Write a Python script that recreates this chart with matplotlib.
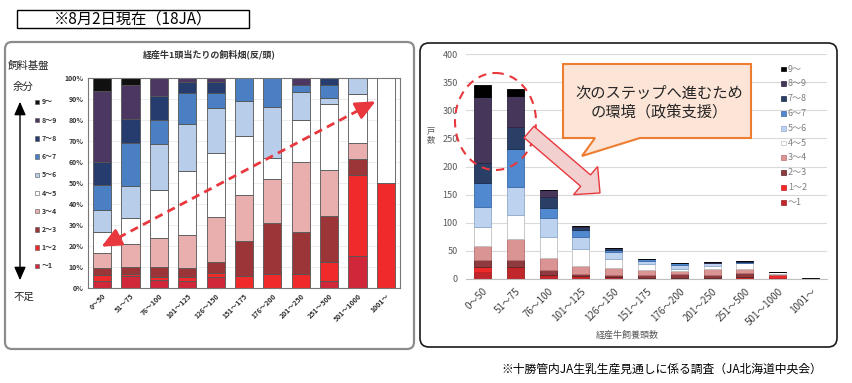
import numpy as np
import matplotlib
matplotlib.use('Agg')
import matplotlib.pyplot as plt
from matplotlib.patches import FancyBboxPatch, Ellipse, Polygon, FancyArrow, FancyArrowPatch, Rectangle

plt.rcParams['font.family'] = ['Noto Sans CJK JP', 'DejaVu Sans']

# ---------------- data ----------------
categories = ['0～50', '51～75', '76～100', '101～125', '126～150', '151～175',
              '176～200', '201～250', '251～500', '501～1000', '1001～']
class_labels = ['～1', '1～2', '2～3', '3～4', '4～5', '5～6', '6～7', '7～8', '8～9', '9～']  # bottom -> top

cnt_lt1 = [12, 19, 6, 3, 3, 0, 0, 0, 1, 2, 0]
cnt_1_2 = [10, 3, 2, 2, 1, 2, 2, 2, 3, 5, 1]
cnt_2_3 = [11, 12, 8, 4, 3, 6, 7, 6, 7, 1, 0]
cnt_3_4 = [25, 37, 22, 15, 12, 8, 6, 10, 7, 1, 0]
cnt_4_5 = [34, 42, 36, 29, 17, 10, 3, 6, 10, 3, 1]
cnt_5_6 = [36, 50, 35, 21, 12, 6, 7, 4, 1, 1, 0]
cnt_6_7 = [42, 69, 18, 14, 4, 4, 4, 1, 2, 0, 0]
cnt_7_8 = [37, 39, 18, 5, 3, 0, 0, 0, 1, 0, 0]
cnt_8_9 = [117, 55, 14, 2, 1, 0, 0, 1, 0, 0, 0]
cnt_9up = [21, 11, 0, 0, 0, 0, 0, 0, 0, 0, 0]

series = [cnt_lt1, cnt_1_2, cnt_2_3, cnt_3_4, cnt_4_5, cnt_5_6, cnt_6_7, cnt_7_8, cnt_8_9, cnt_9up]

left_title = '経産牛1頭当たりの飼料畑(反/頭)'
right_xlabel = '経産牛飼養頭数'
right_ylabel = '戸\n数'
callout_lines = ['次のステップへ進むため', 'の環境（政策支援）']
header_text = '※8月2日現在（18JA）'
footer_text = '※十勝管内JA生乳生産見通しに係る調査（JA北海道中央会）'

colors_r = ['#C0262C', '#EE2A2A', '#8E3A3E', '#DA9494', '#FFFFFF', '#BCD2EE', '#5089D0', '#2A3F66', '#46375A', '#000000']
edges_r = ['#9A1E22', '#C82020', '#5A2326', '#B87070', '#BFBFBF', '#8FAAD0', '#3A6AA8', '#1C2C4A', '#2E2440', '#000000']
colors_l = ['#D0283A', '#F02A2A', '#9B3538', '#E9AEAE', '#FFFFFF', '#B8CDEA', '#4A7FC4', '#263C6E', '#4B3762', '#101010']

W, H = 853, 383
fig = plt.figure(figsize=(W / 100, H / 100), dpi=100)
fig.patch.set_facecolor('white')


def ax_rect(x0, y0, x1, y1):
    return [x0 / W, 1 - y1 / H, (x1 - x0) / W, (y1 - y0) / H]


x = np.arange(len(categories))
data = np.array(series, dtype=float)
totals = data.sum(axis=0)
pct = data / totals * 100

# ---------------- left: 100% stacked ----------------
axl = fig.add_axes(ax_rect(88, 78, 400, 288))
bottom = np.zeros(len(categories))
for i in range(len(series)):
    axl.bar(x, pct[i], 0.64, bottom=bottom, color=colors_l[i], edgecolor='#555555', linewidth=0.6, zorder=2)
    bottom += pct[i]
axl.set_xlim(-0.5, len(categories) - 0.5)
axl.set_ylim(0, 100)
axl.set_yticks(np.arange(0, 101, 10))
axl.set_yticklabels([f'{v}%' for v in range(0, 101, 10)], fontsize=5, fontweight='bold', color='#333333')
axl.set_xticks(x)
axl.set_xticklabels(categories, fontsize=5, fontweight='bold', color='#333333',
                    rotation=45, ha='right', va='top', rotation_mode='anchor')
axl.tick_params(length=0, pad=3)
axl.yaxis.grid(True, color='#E6E6E6', lw=0.5)
axl.set_axisbelow(True)
for s in axl.spines.values():
    s.set_color('#777777')
    s.set_linewidth(0.8)

# ---------------- right: stacked counts ----------------
axr = fig.add_axes(ax_rect(466, 54, 827, 279))
bottom = np.zeros(len(categories))
for i in range(len(series)):
    axr.bar(x, data[i], 0.52, bottom=bottom, color=colors_r[i], edgecolor=edges_r[i], linewidth=0.6, zorder=2)
    bottom += data[i]
axr.set_xlim(-0.5, len(categories) - 0.5)
axr.set_ylim(0, 400)
axr.set_yticks(np.arange(0, 401, 50))
axr.tick_params(axis='y', labelsize=6.5, labelcolor='#595959', length=0, pad=6)
axr.set_xticks(x)
axr.set_xticklabels(categories, fontsize=7, color='#404040',
                    rotation=45, ha='right', va='top', rotation_mode='anchor')
axr.tick_params(axis='x', length=0, pad=5)
axr.yaxis.grid(True, color='#D9D9D9', lw=0.8)
axr.set_axisbelow(True)
for k in ['left', 'right', 'top']:
    axr.spines[k].set_visible(False)
axr.spines['bottom'].set_color('#BFBFBF')

# ---------------- overlay ----------------
ov = fig.add_axes([0, 0, 1, 1], zorder=10)
ov.set_xlim(0, W)
ov.set_ylim(H, 0)
ov.axis('off')
ov.patch.set_alpha(0)

# header box
ov.add_patch(Rectangle((17, 10), 232, 18, fill=False, edgecolor='black', lw=1))
ov.text(133, 19.5, header_text, fontsize=11, ha='center', va='center', color='black')

# panel boxes
ov.add_patch(FancyBboxPatch((5, 42), 409, 307, boxstyle='round,pad=0,rounding_size=7',
                            fill=False, edgecolor='#8C8C8C', lw=1.6))
ov.add_patch(FancyBboxPatch((420, 43), 417, 304, boxstyle='round,pad=0,rounding_size=9',
                            fill=False, edgecolor='#1A1A1A', lw=1.2))

# left panel texts
ov.text(209, 54, left_title, fontsize=6.5, fontweight='bold', ha='center', va='center', color='#333333')
ov.text(8, 66, '飼料基盤', fontsize=7.5, ha='left', va='center', color='#222222')
ov.text(23, 87, '余分', fontsize=7.5, ha='center', va='center', color='#222222')
ov.text(24, 297, '不足', fontsize=7.5, ha='center', va='center', color='#222222')
ov.add_patch(FancyArrowPatch((20, 283), (20, 99), arrowstyle='<|-|>,head_length=0.8,head_width=0.35',
                             mutation_scale=10, color='black', lw=1))
leg_labels = class_labels[::-1]
for j, lab in enumerate(leg_labels):
    yy = 102 + j * 18.2
    ci = len(class_labels) - 1 - j
    ov.add_patch(Rectangle((35, yy - 2.2), 4.4, 4.4, facecolor=colors_l[ci], edgecolor='#555555', lw=0.4))
    ov.text(41.5, yy, lab, fontsize=5, fontweight='bold', ha='left', va='center', color='#333333')

# red dashed double arrow (dashed shaft, solid heads)
p0 = np.array([99.0, 248.0])
p1 = np.array([378.0, 100.0])
u = (p1 - p0) / np.linalg.norm(p1 - p0)
ov.plot([p0[0] + u[0] * 8, p1[0] - u[0] * 8], [p0[1] + u[1] * 8, p1[1] - u[1] * 8],
        color='#E8383D', lw=2, linestyle=(0, (3, 2)))
for tip, d in [(p0, -u), (p1, u)]:
    ov.add_patch(FancyArrowPatch(tuple(tip - d * 13), tuple(tip), arrowstyle='-|>,head_length=1.2,head_width=0.55',
                                 mutation_scale=10, color='#E8383D', lw=2))

# right panel texts
ov.text(431, 135, right_ylabel, fontsize=6, ha='center', va='center', color='#595959', linespacing=1.1)
ov.text(627, 335, right_xlabel, fontsize=6.5, ha='center', va='center', color='#595959')
for j, lab in enumerate(leg_labels):
    yy = 69 + j * 14.8
    ci = len(class_labels) - 1 - j
    ov.add_patch(Rectangle((781, yy - 2.4), 4.8, 4.8, facecolor=colors_r[ci], edgecolor=edges_r[ci], lw=0.5))
    ov.text(788, yy, lab, fontsize=6.5, ha='left', va='center', color='#7F7F7F')

# callout
callout = Polygon([(563, 64), (751, 64), (751, 138), (640, 138), (582, 156), (595, 138), (563, 138)],
                  closed=True, facecolor='#FCE4D6', edgecolor='#ED7D31', lw=1.5)
ov.add_patch(callout)
ov.text(659, 93, callout_lines[0], fontsize=11, ha='center', va='center', color='#262626')
ov.text(659, 112, callout_lines[1], fontsize=11, ha='center', va='center', color='#262626')

# dashed ellipse
ov.add_patch(Ellipse((495.5, 121.5), 81, 97, fill=False, edgecolor='#E8383D', lw=1.5, linestyle=(0, (4, 3))))

# big pink arrow
ov.add_patch(FancyArrow(529, 132, 71, 61, width=15, head_width=37, head_length=19,
                        length_includes_head=True, facecolor='#F2D0D0', edgecolor='#E8383D', lw=1))

# footer
ov.text(662, 369, footer_text, fontsize=8.5, ha='center', va='center', color='black')

fig.savefig('out.png', dpi=100, facecolor='white')
